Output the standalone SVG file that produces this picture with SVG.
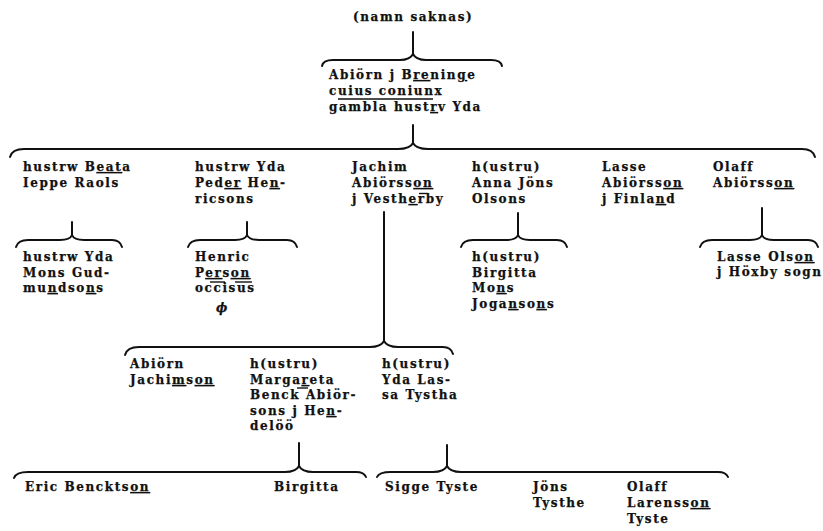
<svg xmlns="http://www.w3.org/2000/svg" width="823" height="531" viewBox="0 0 823 531">
<style>
text{font-family:"DejaVu Serif","Liberation Serif",serif;font-weight:bold;font-size:12px;letter-spacing:1.6px;fill:#111;stroke:#111;stroke-width:0.25}
.u{text-decoration:underline}
.mk{stroke:#111;stroke-width:1.4}
.br{fill:none;stroke:#111;stroke-width:2;stroke-linecap:round;stroke-linejoin:round}
</style>
<rect width="823" height="531" fill="#fff"/>
<g id="connectors">
<path class="br" d="M413,32 L413,54 M322,66 Q323,60 333,60 L400,60 Q410,60 413,54 Q416,60 426,60 L491,60 Q501,60 502,66"/>
<path class="br" d="M413,125 L413,143 M10,157 Q12,149 24,149 L398,149 Q410,149 413,143 Q416,149 428,149 L802,149 Q813,149 815,157"/>
<path class="br" d="M72,222 L72,235 M16,247 Q18,240 28,240 L60,240 Q70,240 72,235 Q74,240 84,240 L112,240 Q120,240 122,247"/>
<path class="br" d="M247,222 L247,235 M188,247 Q190,240 200,240 L235,240 Q245,240 247,235 Q249,240 259,240 L287,240 Q295,240 297,247"/>
<path class="br" d="M518,213 L518,235 M461,247 Q463,240 473,240 L506,240 Q516,240 518,235 Q520,240 530,240 L557,240 Q565,240 567,247"/>
<path class="br" d="M762,208 L762,235 M700,247 Q702,240 712,240 L750,240 Q760,240 762,235 Q764,240 774,240 L808,240 Q816,240 818,247"/>
<path class="br" d="M384,212 L384,341 M125,355 Q127,347 139,347 L370,347 Q381,347 384,341 Q387,347 398,347 L443,347 Q451,347 453,354"/>
<path class="br" d="M299,443 L299,466 M14,478 Q16,472 28,472 L285,472 Q296,472 299,466 Q302,472 313,472 L356,472 Q364,472 366,477"/>
<path class="br" d="M447,445 L447,466 M377,477 Q379,472 391,472 L433,472 Q444,472 447,466 Q450,472 461,472 L718,472 Q726,472 728,477"/>
</g>
<g id="n0"><text x="353" y="21">(namn saknas)</text></g>
<g id="n1">
<text x="329" y="79">Abiörn j B<tspan class="u">re</tspan>nin<tspan class="u">g</tspan>e</text>
<text x="329" y="95">cuius coniunx</text>
<text x="329" y="111">gambla hust<tspan class="u">r</tspan>v Yda</text>
<line class="mk" x1="338" y1="99" x2="433" y2="99"/>
</g>
<g id="n2">
<text x="23" y="171">hustrw B<tspan class="u">eat</tspan>a</text>
<text x="23" y="187">Ieppe Raols</text>
</g>
<g id="n3">
<text x="195" y="171">hustrw Yda</text>
<text x="195" y="187">Ped<tspan class="u">er</tspan> He<tspan class="u">n</tspan>-</text>
<text x="195" y="203">ricsons</text>
</g>
<g id="n4">
<text x="352" y="171">Jachim</text>
<text x="352" y="187">Abiörss<tspan class="u">on</tspan></text>
<text x="352" y="203">j Vesth<tspan class="u">e</tspan>rby</text>
<line class="mk" x1="419" y1="193.5" x2="428" y2="193.5"/>
</g>
<g id="n5">
<text x="472" y="171">h(ustru)</text>
<text x="472" y="187">Anna Jöns</text>
<text x="472" y="203">Olsons</text>
</g>
<g id="n6">
<text x="602" y="171">Lasse</text>
<text x="602" y="187">Abiörss<tspan class="u">on</tspan></text>
<text x="602" y="203">j Finla<tspan class="u">n</tspan>d</text>
</g>
<g id="n7">
<text x="713" y="171">Olaff</text>
<text x="713" y="187">Abiörss<tspan class="u">on</tspan></text>
</g>
<g id="n8">
<text x="23" y="261">hustrw Yda</text>
<text x="23" y="277">Mons Gud-</text>
<text x="23" y="292">mu<tspan class="u">n</tspan>dso<tspan class="u">n</tspan>s</text>
</g>
<g id="n9">
<text x="195" y="261">Henric</text>
<text x="195" y="277">P<tspan class="u">er</tspan>s<tspan class="u">on</tspan></text>
<text x="195" y="292">occisus</text>
<line class="mk" x1="210" y1="282" x2="225" y2="282"/>
<line class="mk" x1="235" y1="282" x2="252" y2="282"/>
<text x="216" y="312" font-style="italic">ϕ</text>
</g>
<g id="n10">
<text x="472" y="261">h(ustru)</text>
<text x="472" y="277">Birgitta</text>
<text x="472" y="292">Mo<tspan class="u">n</tspan>s</text>
<text x="472" y="308">Joga<tspan class="u">n</tspan>so<tspan class="u">n</tspan>s</text>
</g>
<g id="n11">
<text x="717" y="261">Lasse Ols<tspan class="u">on</tspan></text>
<text x="717" y="276">j Höxby sogn</text>
</g>
<g id="n12">
<text x="130" y="368">Abiörn</text>
<text x="130" y="384">Jachi<tspan class="u">m</tspan>s<tspan class="u">on</tspan></text>
</g>
<g id="n13">
<text x="250" y="368">h(ustru)</text>
<text x="250" y="384">Marga<tspan class="u">r</tspan>eta</text>
<text x="250" y="399">Benck Abiör-</text>
<line class="mk" x1="297" y1="388" x2="308" y2="388"/>
<text x="250" y="415">sons j He<tspan class="u">n</tspan>-</text>
<text x="250" y="430">delöö</text>
</g>
<g id="n14">
<text x="382" y="368">h(ustru)</text>
<text x="382" y="384">Yda Las-</text>
<text x="382" y="399">sa Tystha</text>
</g>
<g id="n15"><text x="25" y="491">Eric Benckts<tspan class="u">on</tspan></text></g>
<g id="n16"><text x="274" y="491">Birgitta</text></g>
<g id="n17"><text x="385" y="491">Sigge Tyste</text></g>
<g id="n18">
<text x="533" y="491">Jöns</text>
<text x="533" y="507">Tysthe</text>
</g>
<g id="n19">
<text x="627" y="491">Olaff</text>
<text x="627" y="507">Larenss<tspan class="u">on</tspan></text>
<text x="627" y="523">Tyste</text>
</g>
</svg>
